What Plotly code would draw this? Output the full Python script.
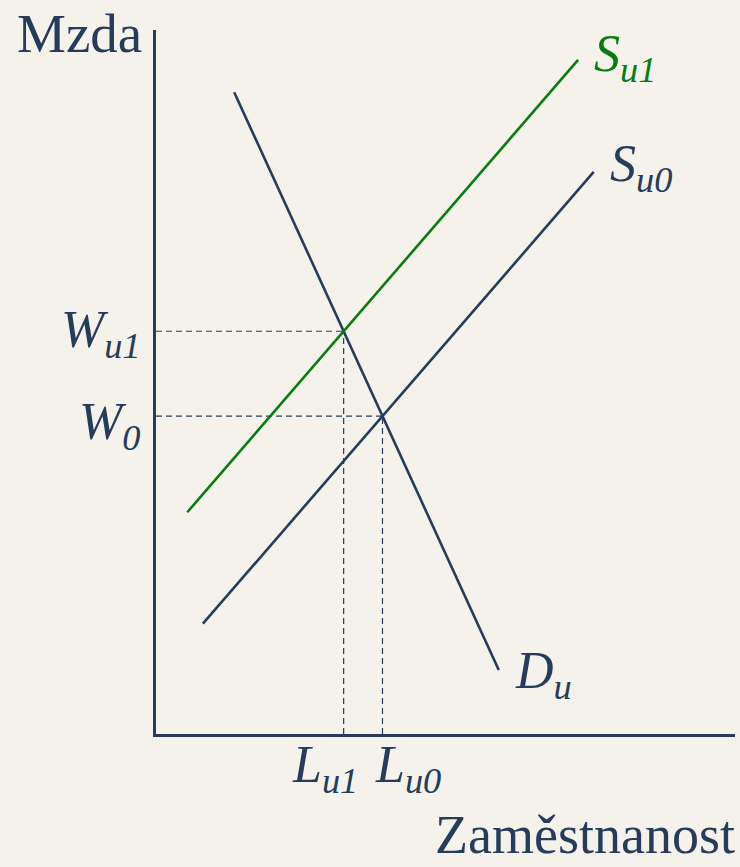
import plotly.graph_objects as go

# Labour market: demand and two supply curves (wage vs. employment)
demand_x = [1.35, 5.92]
demand_y = [10.94, 1.09]
supply0_x = [0.81, 7.56]
supply0_y = [1.88, 9.58]
supply1_x = [0.54, 7.29]
supply1_y = [3.78, 11.49]

line_names = ["D<sub>u</sub>", "S<sub>u0</sub>", "S<sub>u1</sub>"]
wage_labels = ["W<sub>u1</sub>", "W<sub>0</sub>"]
emp_labels = ["L<sub>u1</sub>", "L<sub>u0</sub>"]
y_title = "Mzda"
x_title = "Zaměstnanost"

NAVY = "#263c5a"
GREEN = "#0b7a10"
BG = "#f5f2ec"
FONT = "Liberation Serif, Times New Roman, serif"


def intersect(ax, ay, bx, by):
    m1 = (ay[1] - ay[0]) / (ax[1] - ax[0])
    m2 = (by[1] - by[0]) / (bx[1] - bx[0])
    c1 = ay[0] - m1 * ax[0]
    c2 = by[0] - m2 * bx[0]
    x = (c2 - c1) / (m1 - m2)
    return x, m1 * x + c1


x0, y0 = intersect(demand_x, demand_y, supply0_x, supply0_y)
x1, y1 = intersect(demand_x, demand_y, supply1_x, supply1_y)

fig = go.Figure()

# dashed guides from the equilibria to the axes
for xi, yi in [(x1, y1), (x0, y0)]:
    fig.add_trace(go.Scatter(x=[0, xi], y=[yi, yi], mode="lines",
                             line=dict(color=NAVY, width=1.2, dash="6px,4px"),
                             hoverinfo="skip", showlegend=False))
    fig.add_trace(go.Scatter(x=[xi, xi], y=[0, yi], mode="lines",
                             line=dict(color=NAVY, width=1.2, dash="6px,4px"),
                             hoverinfo="skip", showlegend=False))

fig.add_trace(go.Scatter(x=demand_x, y=demand_y, mode="lines",
                         line=dict(color=NAVY, width=2.6), showlegend=False))
fig.add_trace(go.Scatter(x=supply0_x, y=supply0_y, mode="lines",
                         line=dict(color=NAVY, width=2.6), showlegend=False))
fig.add_trace(go.Scatter(x=supply1_x, y=supply1_y, mode="lines",
                         line=dict(color=GREEN, width=2.6), showlegend=False))

TXT = 52
ann = []
# curve labels next to their end points
ann.append(dict(x=demand_x[1], y=demand_y[1], text="<i>" + line_names[0] + "</i>",
                xanchor="left", yanchor="middle", xshift=14, yshift=-4,
                font=dict(color=NAVY, size=TXT)))
ann.append(dict(x=supply0_x[1], y=supply0_y[1], text="<i>" + line_names[1] + "</i>",
                xanchor="left", yanchor="middle", xshift=14, yshift=4,
                font=dict(color=NAVY, size=TXT)))
ann.append(dict(x=supply1_x[1], y=supply1_y[1], text="<i>" + line_names[2] + "</i>",
                xanchor="left", yanchor="middle", xshift=14, yshift=2,
                font=dict(color=GREEN, size=TXT)))
# wage labels on the vertical axis
for yi, lab, ys in zip([y1, y0], wage_labels, [-2, -9]):
    ann.append(dict(x=0, y=yi, text="<i>" + lab + "</i>", xanchor="right",
                    yanchor="middle", xshift=-13, yshift=ys,
                    font=dict(color=NAVY, size=TXT)))
# employment labels under the horizontal axis
ann.append(dict(x=x1, y=0, text="<i>" + emp_labels[0] + "</i>", xanchor="right",
                yanchor="top", xshift=16, yshift=0, font=dict(color=NAVY, size=TXT)))
ann.append(dict(x=x0, y=0, text="<i>" + emp_labels[1] + "</i>", xanchor="left",
                yanchor="top", xshift=-9, yshift=0, font=dict(color=NAVY, size=TXT)))
# axis titles
ann.append(dict(xref="paper", yref="paper", x=0, y=1, text=y_title,
                xanchor="right", yanchor="middle", xshift=-12, yshift=-3,
                font=dict(color=NAVY, size=55)))
ann.append(dict(xref="paper", yref="paper", x=1, y=0, text=x_title,
                xanchor="right", yanchor="bottom", xshift=2, yshift=-133,
                font=dict(color=NAVY, size=54)))
for a in ann:
    a["showarrow"] = False
    a.setdefault("xref", "x")
    a.setdefault("yref", "y")

fig.update_layout(
    width=740, height=867,
    margin=dict(l=156, r=5, t=30, b=133),
    paper_bgcolor=BG, plot_bgcolor=BG,
    font=dict(family=FONT, color=NAVY),
    annotations=ann,
    xaxis=dict(range=[0, 10], showgrid=False, zeroline=False, showticklabels=False,
               showline=True, linecolor=NAVY, linewidth=3, ticks=""),
    yaxis=dict(range=[0, 12], showgrid=False, zeroline=False, showticklabels=False,
               showline=True, linecolor=NAVY, linewidth=3, ticks=""),
)

fig.write_html("out.html")
